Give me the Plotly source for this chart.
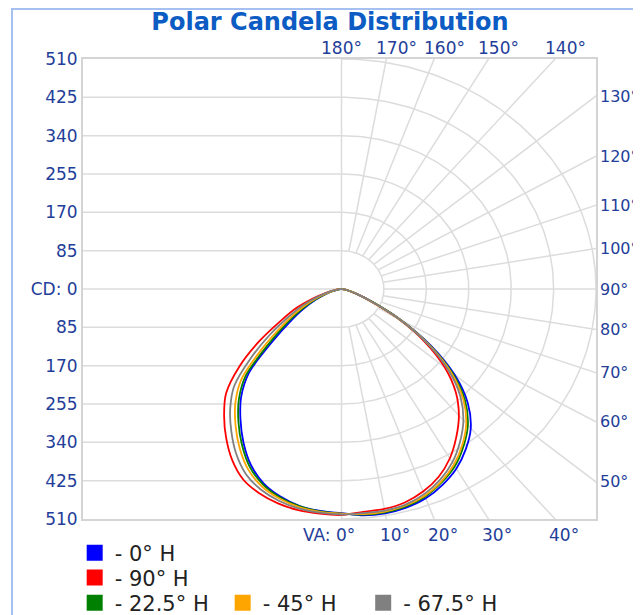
import numpy as np
import plotly.graph_objects as go

# ---------------- data (candela vs vertical angle) ----------------
angles = [0, 5, 10, 15, 20, 25, 30, 35, 40, 45, 50, 55, 60, 65, 70, 75, 80, 85, 90]

# right half of each plane (H) and the opposite half (H+180) shown on the left
h0_right = [502, 504, 505, 502, 494, 479, 460, 434, 403, 358, 296, 218, 138, 70, 35, 16, 7, 2, 0]
h0_left = [497, 494, 488, 476, 458, 430, 393, 353, 313, 262, 180, 125, 88, 58, 34, 17, 7, 2, 0]

h90_right = [495, 496, 495, 490, 478, 460, 434, 401, 366, 324, 270, 203, 130, 65, 32, 15, 6, 2, 0]
h90_left = [501, 500, 498, 492, 482, 466, 438, 403, 366, 327, 267, 200, 140, 100, 60, 32, 14, 5, 0]

h22_right = [500, 502, 503, 499, 490, 474, 454, 426, 394, 350, 290, 214, 136, 69, 34, 16, 7, 2, 0]
h22_left = [498, 495, 489, 478, 461, 435, 399, 360, 320, 271, 192, 136, 95, 64, 38, 19, 8, 2, 0]

h45_right = [499, 501, 501, 497, 488, 472, 450, 422, 389, 345, 286, 212, 135, 68, 34, 16, 7, 2, 0]
h45_left = [498, 496, 491, 481, 466, 442, 408, 370, 331, 284, 210, 150, 106, 72, 43, 22, 9, 3, 0]

h67_right = [498, 499, 499, 495, 484, 467, 444, 414, 380, 337, 280, 209, 133, 67, 33, 15, 6, 2, 0]
h67_left = [500, 498, 494, 486, 473, 453, 422, 385, 347, 304, 236, 173, 121, 85, 51, 27, 11, 4, 0]

series_names = ["- 0° H", "- 90° H", "- 22.5° H", "- 45° H", "- 67.5° H"]
series_colors = ["#0000ff", "#ff0000", "#008000", "#ffa500", "#808080"]
series_right = [h0_right, h90_right, h22_right, h45_right, h67_right]
series_left = [h0_left, h90_left, h22_left, h45_left, h67_left]
series_legend = ["legend", "legend2", "legend3", "legend4", "legend5"]

cd_tickvals = [-510, -425, -340, -255, -170, -85, 0, 85, 170, 255, 340, 425, 510]
cd_ticktext = ["510", "425", "340", "255", "170", "85", "CD: 0",
               "85", "170", "255", "340", "425", "510"]
ring_values = [85, 170, 255, 340, 425, 510]
va_angles = [0, 10, 20, 30, 40, 50, 60, 70, 80, 90, 100, 110, 120, 130, 140, 150, 160, 170, 180]

X_MIN, X_MAX = -518, 510
Y_MIN, Y_MAX = -510, 510

GRID = "#dcdcdc"
LABEL = "#233e99"
FONT = "DejaVu Sans, Verdana, sans-serif"

fig = go.Figure()

# ---------------- polar grid on the right half ----------------
th_arc = np.radians(np.linspace(0, 180, 181))
for r in ring_values:
    fig.add_trace(go.Scatter(
        x=r * np.sin(th_arc), y=-r * np.cos(th_arc), mode="lines",
        line=dict(color=GRID, width=1.5), hoverinfo="skip", showlegend=False))

for a in va_angles:
    if a in (0, 180):
        continue
    t = np.radians(a)
    rr = np.array([ring_values[0], 800])
    fig.add_trace(go.Scatter(
        x=rr * np.sin(t), y=-rr * np.cos(t), mode="lines",
        line=dict(color=GRID, width=1.5), hoverinfo="skip", showlegend=False))

# vertical axis line through the centre
fig.add_trace(go.Scatter(x=[0, 0], y=[Y_MIN, Y_MAX], mode="lines",
                         line=dict(color=GRID, width=1.5), hoverinfo="skip", showlegend=False))

# horizontal candela grid on the left half
for v in cd_tickvals[1:-1]:
    fig.add_trace(go.Scatter(x=[X_MIN, 0], y=[v, v], mode="lines",
                             line=dict(color=GRID, width=1.5), hoverinfo="skip", showlegend=False))

# ---------------- candela curves ----------------
th = np.radians(angles)
for name, color, rv, lv, lg in zip(series_names, series_colors, series_right,
                                    series_left, series_legend):
    rv = np.array(rv, dtype=float)
    lv = np.array(lv, dtype=float)
    xr, yr = rv * np.sin(th), -rv * np.cos(th)
    xl, yl = -lv * np.sin(th), -lv * np.cos(th)
    x = np.concatenate([xl[::-1], xr[1:]])
    y = np.concatenate([yl[::-1], yr[1:]])
    fig.add_trace(go.Scatter(
        x=x, y=y, mode="lines", name=name, legendgroup=name, showlegend=False,
        line=dict(color=color, width=1.8, shape="spline", smoothing=0.8)))
    fig.add_trace(go.Scatter(
        x=[None], y=[None], mode="markers", name=name, legendgroup=name, legend=lg,
        marker=dict(symbol="square", size=18, color=color, line=dict(width=0))))

# ---------------- angle labels where the radial lines meet the frame ----------------
annotations = []
for a in va_angles:
    t = np.radians(a)
    dx, dy = np.sin(t), -np.cos(t)
    cands = []
    if dx > 1e-9:
        cands.append(X_MAX / dx)
    if abs(dy) > 1e-9:
        cands.append(Y_MAX / abs(dy))
    s = min(cands)
    px, py = s * dx, s * dy
    txt = f"{a}°"
    size = 17
    if a <= 40:
        if a == 0:
            annotations.append(dict(x=0, y=Y_MIN, text="VA: " + txt, showarrow=False,
                                    xanchor="right", yanchor="middle", xshift=15, yshift=-16))
        else:
            annotations.append(dict(x=px, y=Y_MIN, text=txt, showarrow=False,
                                    xanchor="center", yanchor="middle", xshift=9, yshift=-16))
    elif a >= 140:
        annotations.append(dict(x=px, y=Y_MAX, text=txt, showarrow=False,
                                xanchor="center", yanchor="middle",
                                xshift=0 if a == 180 else 10, yshift=11))
    else:
        size = 16
        annotations.append(dict(x=X_MAX, y=py, text=txt, showarrow=False,
                                xanchor="left", yanchor="middle", xshift=2))
    annotations[-1].update(xref="x", yref="y", font=dict(family=FONT, size=size, color=LABEL))

legend_style = dict(bgcolor="rgba(0,0,0,0)", xanchor="left", yanchor="middle",
                    font=dict(family=FONT, size=21, color="#222222"))

fig.update_layout(
    width=633, height=607,
    margin=dict(l=75, r=45, t=51, b=96, autoexpand=False),
    paper_bgcolor="white", plot_bgcolor="white",
    title=dict(text="Polar Candela Distribution", x=0.5087, xref="container", xanchor="center",
               y=1 - 14 / 607, yref="container", yanchor="middle",
               font=dict(family=FONT, size=24, color="#0c5cc4", weight="bold")),
    xaxis=dict(range=[X_MIN, X_MAX], showgrid=False, zeroline=False, showticklabels=False,
               showline=True, mirror=True, linecolor="#d4d4d4", linewidth=2, ticks=""),
    yaxis=dict(range=[Y_MIN, Y_MAX], showgrid=False, zeroline=False,
               tickvals=cd_tickvals, ticktext=cd_ticktext, ticks="",
               tickfont=dict(family=FONT, size=17, color=LABEL),
               showline=True, mirror=True, linecolor="#d4d4d4", linewidth=2),
    annotations=annotations,
    shapes=[dict(type="rect", xref="paper", yref="paper", x0=-0.1384, x1=1.3,
                 y0=-0.4, y1=1.1087, line=dict(color="#a6c0f2", width=2),
                 fillcolor="rgba(0,0,0,0)", layer="below")],
    legend=dict(x=-0.0162, y=-0.074, **legend_style),
    legend2=dict(x=-0.0162, y=-0.128, **legend_style),
    legend3=dict(x=-0.0162, y=-0.183, **legend_style),
    legend4=dict(x=0.2723, y=-0.183, **legend_style),
    legend5=dict(x=0.5462, y=-0.183, **legend_style),
)

fig.write_html("out.html")
